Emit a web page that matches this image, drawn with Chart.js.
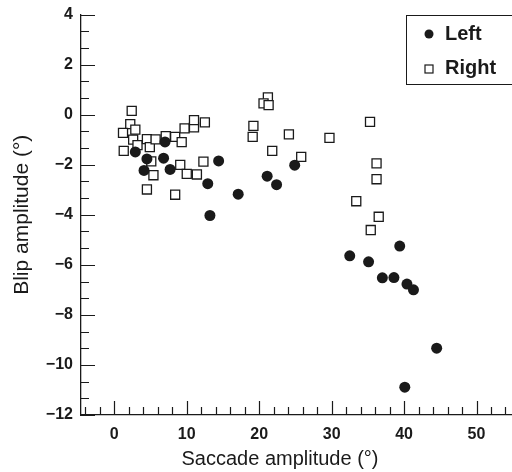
<!DOCTYPE html>
<html>
<head>
<meta charset="utf-8">
<script src="https://cdn.jsdelivr.net/npm/chart.js@4/dist/chart.umd.min.js"></script>
<style>
  html, body { margin: 0; padding: 0; background: #fff; }
  canvas { display: block; }
</style>
</head>
<body>
<canvas id="chart" width="512" height="472"></canvas>
<script>
// saccade amplitude (deg) and blip amplitude (deg)
const leftX = [2.9, 4.5, 4.1, 6.8, 7.0, 7.7, 12.9, 13.2, 14.4, 17.1, 21.1, 22.4, 24.9,
  32.5, 35.1, 39.4, 37.0, 38.6, 40.4, 41.3, 44.5, 40.1];
const leftY = [-1.49, -1.77, -2.23, -1.74, -1.09, -2.19, -2.76, -4.03, -1.85, -3.18, -2.46, -2.80, -2.02,
  -5.64, -5.88, -5.25, -6.52, -6.51, -6.77, -7.00, -9.33, -10.89];

const rightX = [2.4, 2.2, 2.9, 1.2, 2.6, 1.3, 3.2, 4.5, 4.9, 5.7, 7.1, 8.4, 9.3, 9.7, 11.0, 11.0, 12.5,
  5.1, 5.4, 4.5, 8.4, 9.1, 10.0, 11.4, 12.3,
  21.2, 20.6, 21.3, 19.2, 19.1, 24.1, 29.7, 21.8, 25.8,
  35.3, 36.2, 36.2, 33.4, 36.5, 35.4];
const rightY = [0.15, -0.38, -0.60, -0.73, -1.00, -1.45, -1.22, -0.98, -1.30, -0.99, -0.86, -0.89, -1.10, -0.55, -0.51, -0.22, -0.31,
  -1.87, -2.42, -2.99, -3.20, -2.01, -2.37, -2.39, -1.88,
  0.69, 0.45, 0.38, -0.45, -0.89, -0.79, -0.93, -1.45, -1.69,
  -0.29, -1.95, -2.58, -3.46, -4.08, -4.61];

const xTitle = "Saccade amplitude (°)";
const yTitle = "Blip amplitude (°)";
const seriesNames = ["Left", "Right"];

const ink = "#1a1a1a";
const toPts = (xs, ys) => xs.map((x, i) => ({ x: x, y: ys[i] }));
const minus = v => String(v).replace("-", "\u2212");

// inward tick marks, axis titles and boxed legend
const decor = {
  id: "decor",
  afterDraw(chart) {
    const ctx = chart.ctx;
    const a = chart.chartArea;
    const xs = chart.scales.x, ys = chart.scales.y;
    ctx.save();
    ctx.strokeStyle = ink;
    ctx.lineWidth = 1.2;
    ctx.beginPath();
    for (let v = -4; v <= 54; v += 2) {
      const px = Math.round(xs.getPixelForValue(v)) + 0.5;
      const len = v % 10 === 0 ? 14 : 8;
      ctx.moveTo(px, a.bottom);
      ctx.lineTo(px, a.bottom - len);
    }
    for (let k = 0; k <= 24; k++) {
      const v = -12 + k * 2 / 3;
      const py = Math.round(ys.getPixelForValue(v)) + 0.5;
      const len = k % 3 === 0 ? 14 : 8;
      ctx.moveTo(a.left, py);
      ctx.lineTo(a.left + len, py);
    }
    ctx.stroke();

    ctx.fillStyle = ink;
    ctx.font = "20px 'Liberation Sans', Arial, sans-serif";
    ctx.textAlign = "center";
    ctx.textBaseline = "middle";
    ctx.fillText(xTitle, 280, 459);
    ctx.save();
    ctx.translate(22, (a.top + a.bottom) / 2);
    ctx.rotate(-Math.PI / 2);
    ctx.font = "21px 'Liberation Sans', Arial, sans-serif";
    ctx.fillText(yTitle, 0, 0);
    ctx.restore();

    // legend
    ctx.lineWidth = 1;
    ctx.strokeRect(406.5, 15.5, 106, 69);
    ctx.beginPath();
    ctx.arc(429, 34, 4.5, 0, Math.PI * 2);
    ctx.fill();
    ctx.fillStyle = "#fff";
    ctx.lineWidth = 1.2;
    ctx.fillRect(425, 65, 8, 8);
    ctx.strokeRect(425, 65, 8, 8);
    ctx.fillStyle = ink;
    ctx.font = "bold 20px 'Liberation Sans', Arial, sans-serif";
    ctx.textAlign = "left";
    ctx.fillText(seriesNames[0], 445, 34);
    ctx.fillText(seriesNames[1], 445, 68);
    ctx.restore();
  }
};

new Chart(document.getElementById("chart"), {
  type: "scatter",
  data: {
    datasets: [
      {
        label: seriesNames[0],
        data: toPts(leftX, leftY),
        pointStyle: "circle",
        pointRadius: 5.5,
        backgroundColor: ink,
        borderColor: ink,
        borderWidth: 0
      },
      {
        label: seriesNames[1],
        data: toPts(rightX, rightY),
        pointStyle: "rect",
        pointRadius: 6.4,
        backgroundColor: "#fff",
        borderColor: ink,
        borderWidth: 1.3
      }
    ]
  },
  options: {
    responsive: false,
    animation: false,
    events: [],
    layout: { autoPadding: false, padding: { left: 0, top: 14.5, right: 0, bottom: 0 } },
    plugins: { legend: { display: false }, tooltip: { enabled: false } },
    scales: {
      x: {
        type: "linear",
        min: -4.6,
        max: 54.9,
        afterFit: s => { s.height = 57; s.paddingLeft = 0; s.paddingRight = 0; },
        grid: { drawOnChartArea: false, drawTicks: false },
        border: { display: true, color: ink, width: 1.3 },
        ticks: {
          stepSize: 10,
          includeBounds: false,
          padding: 10,
          color: ink,
          font: { family: "'Liberation Sans', Arial, sans-serif", size: 16, weight: "bold" },
          callback: v => minus(v)
        }
      },
      y: {
        type: "linear",
        min: -12,
        max: 4,
        afterFit: s => { s.width = 81; s.paddingTop = 0; s.paddingBottom = 0; },
        grid: { drawOnChartArea: false, drawTicks: false },
        border: { display: true, color: ink, width: 1.3 },
        ticks: {
          stepSize: 2,
          padding: 8,
          color: ink,
          font: { family: "'Liberation Sans', Arial, sans-serif", size: 16, weight: "bold" },
          callback: v => minus(v)
        }
      }
    }
  },
  plugins: [decor]
});
</script>
</body>
</html>
